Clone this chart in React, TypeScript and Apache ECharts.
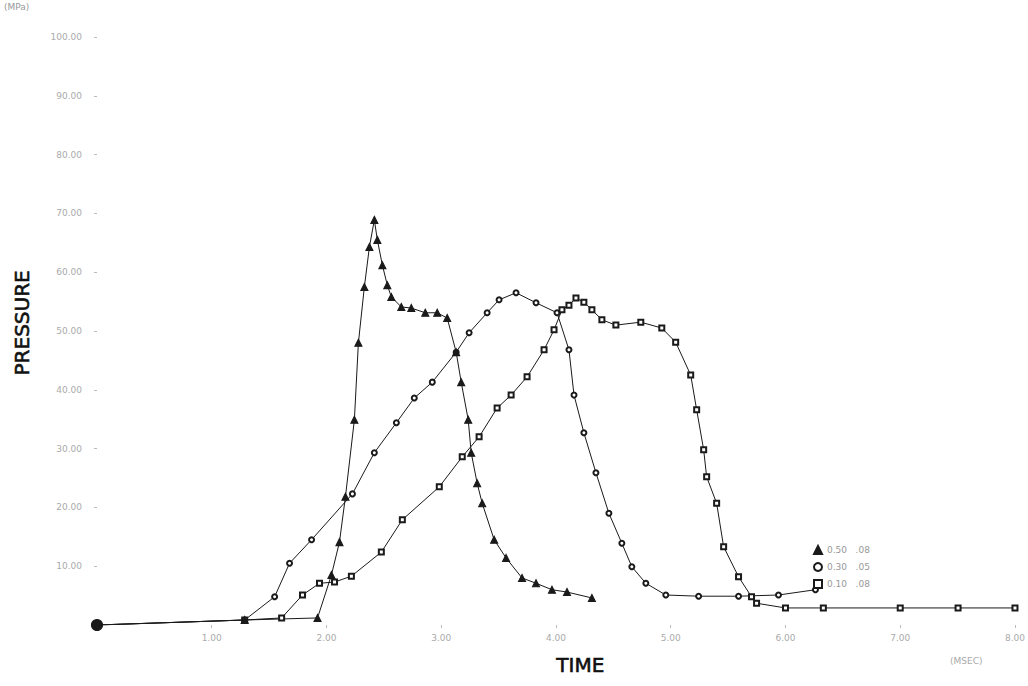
import React, { useEffect, useRef } from "react";
import * as echarts from "echarts";

// Series A (filled triangles)
const timeA = [0, 1.287, 1.922, 2.043, 2.113, 2.165, 2.243, 2.278, 2.33, 2.374, 2.417, 2.443, 2.487, 2.53, 2.565, 2.652, 2.739, 2.861, 2.965, 3.052, 3.13, 3.174, 3.235, 3.261, 3.313, 3.357, 3.461, 3.565, 3.704, 3.826, 3.965, 4.096, 4.313];
const presA = [0, 0.85, 1.2, 8.5, 14.1, 21.8, 34.9, 48.0, 57.5, 64.3, 68.9, 65.5, 61.2, 57.8, 55.8, 54.1, 53.9, 53.1, 53.1, 52.2, 46.4, 41.3, 34.9, 29.3, 24.1, 20.7, 14.5, 11.4, 8.0, 7.1, 6.0, 5.6, 4.6];

// Series B (open circles)
const timeB = [0, 1.287, 1.548, 1.678, 1.87, 2.226, 2.417, 2.609, 2.765, 2.922, 3.13, 3.243, 3.4, 3.504, 3.652, 3.826, 4.009, 4.113, 4.157, 4.243, 4.348, 4.461, 4.574, 4.661, 4.783, 4.957, 5.243, 5.591, 5.939, 6.261];
const presB = [0, 0.85, 4.8, 10.5, 14.5, 22.3, 29.3, 34.4, 38.6, 41.3, 46.4, 49.7, 53.1, 55.3, 56.5, 54.8, 53.1, 46.8, 39.1, 32.7, 25.9, 19.0, 13.9, 9.9, 7.1, 5.1, 4.9, 4.9, 5.1, 6.0];

// Series C (open squares)
const timeC = [0, 1.287, 1.609, 1.791, 1.939, 2.07, 2.217, 2.478, 2.661, 2.983, 3.183, 3.33, 3.487, 3.609, 3.748, 3.896, 3.983, 4.052, 4.113, 4.174, 4.243, 4.313, 4.4, 4.522, 4.739, 4.922, 5.043, 5.174, 5.226, 5.287, 5.313, 5.4, 5.461, 5.591, 5.704, 5.748, 6.0, 6.33, 7.0, 7.504, 8.0];
const presC = [0, 0.85, 1.2, 5.1, 7.1, 7.3, 8.3, 12.4, 17.9, 23.5, 28.6, 32.0, 36.9, 39.1, 42.2, 46.8, 50.2, 53.6, 54.4, 55.6, 54.9, 53.6, 51.9, 51.0, 51.5, 50.5, 48.1, 42.5, 36.6, 29.8, 25.2, 20.7, 13.3, 8.2, 4.8, 3.7, 2.9, 2.9, 2.9, 2.9, 2.9];

const seriesNames = ["0.50   .08", "0.30   .05", "0.10   .08"];
const yTitle = "PRESSURE";
const xTitle = "TIME";
const yUnit = "(MPa)";
const xUnit = "(MSEC)";

const zip = (xs: number[], ys: number[]) => xs.map((x, i) => [x, ys[i]]);

export default function App() {
  const ref = useRef<HTMLDivElement>(null);
  useEffect(() => {
    if (!ref.current) return;
    const chart = echarts.init(ref.current, undefined, { renderer: "svg" });
    const ink = "#1a1a1a";
    const lineCommon = {
      type: "line" as const,
      lineStyle: { color: ink, width: 1 },
      itemStyle: { color: ink, borderColor: ink, borderWidth: 1.1 },
      emphasis: { disabled: true },
    };
    const dataA = zip(timeA, presA).map((p, i) =>
      i === 0 ? { value: p, symbol: "circle", symbolSize: 11 } : p
    );
    chart.setOption({
      animation: false,
      backgroundColor: "#ffffff",
      textStyle: { fontFamily: "DejaVu Sans" },
      grid: { left: 97, right: 11, top: 37, bottom: 61, containLabel: false },
      xAxis: {
        type: "value",
        min: 0,
        max: 8,
        interval: 1,
        axisLine: { show: false },
        axisTick: { show: true, length: 3, lineStyle: { color: "#bbb" } },
        splitLine: { show: false },
        axisLabel: {
          margin: 8,
          color: "#aaa",
          fontSize: 9,
          formatter: (v: number) => (v === 0 ? "" : v.toFixed(2)),
        },
      },
      yAxis: {
        type: "value",
        min: 0,
        max: 100,
        interval: 10,
        axisLine: { show: false },
        axisTick: { show: true, length: 3, lineStyle: { color: "#bbb" } },
        splitLine: { show: false },
        axisLabel: {
          margin: 15,
          color: "#aaa",
          fontSize: 9,
          formatter: (v: number) => (v === 0 ? "" : v.toFixed(2)),
        },
      },
      legend: {
        orient: "vertical",
        left: 808,
        top: 540,
        itemGap: 7,
        itemWidth: 8,
        itemHeight: 8,
        textStyle: { color: "#999", fontSize: 9 },
        data: [
          { name: seriesNames[0], icon: "triangle" },
          { name: seriesNames[1], icon: "emptyCircle" },
          { name: seriesNames[2], icon: "emptyRect" },
        ],
      },
      graphic: [
        {
          type: "text",
          left: 12,
          top: 270,
          rotation: Math.PI / 2,
          style: {
            text: yTitle,
            fill: "#111",
            font: "20px 'DejaVu Sans'",
            stroke: "#111",
            lineWidth: 0.6,
          },
        },
        {
          type: "text",
          left: 556,
          top: 655,
          style: {
            text: xTitle,
            fill: "#111",
            font: "20px 'DejaVu Sans'",
            stroke: "#111",
            lineWidth: 0.6,
          },
        },
        {
          type: "text",
          left: 4,
          top: 2,
          style: { text: yUnit, fill: "#999", font: "9px 'DejaVu Sans'" },
        },
        {
          type: "text",
          left: 950,
          top: 656,
          style: { text: xUnit, fill: "#aaa", font: "9px 'DejaVu Sans'" },
        },
      ],
      series: [
        {
          ...lineCommon,
          name: seriesNames[1],
          symbol: "emptyCircle",
          symbolSize: 5,
          data: zip(timeB, presB),
        },
        {
          ...lineCommon,
          name: seriesNames[2],
          symbol: "emptyRect",
          symbolSize: 5,
          data: zip(timeC, presC),
        },
        {
          ...lineCommon,
          name: seriesNames[0],
          symbol: "triangle",
          symbolSize: 7,
          data: dataA,
        },
      ],
    });
    return () => chart.dispose();
  }, []);
  return (
    <div
      ref={ref}
      style={{ position: "absolute", left: 0, top: 0, width: 1028, height: 686 }}
    />
  );
}
